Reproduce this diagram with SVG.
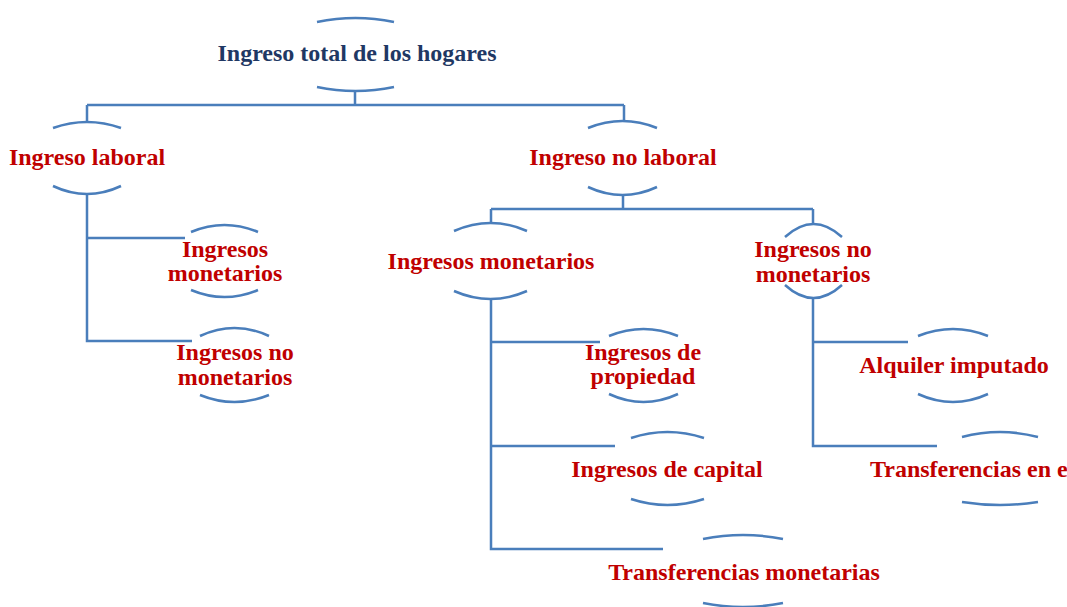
<svg xmlns="http://www.w3.org/2000/svg" width="1067" height="607" viewBox="0 0 1067 607">
<style>
.arc{fill:none;stroke:#4A7EBB;stroke-width:2.5}
.con{fill:none;stroke:#4A7EBB;stroke-width:2.5}
text{font-family:"Liberation Serif","Times New Roman",serif;font-weight:bold;font-size:24px;text-anchor:middle}
.root{fill:#1F3864}
.lbl{fill:#C00000}
</style>
<rect width="1067" height="607" fill="#ffffff"/>
<g id="connectors">
<path class="con" d="M355,91 V105 M87,105 H624 M87,105 V122 M624,105 V121"/>
<path class="con" d="M87,194 V341 H192 M87,238 H185"/>
<path class="con" d="M623,195 V209 M491,209 H813 M491,209 V223 M813,209 V224"/>
<path class="con" d="M491,299 V549 H663 M491,342 H600 M491,446 H615"/>
<path class="con" d="M813,298 V446 H937 M813,342 H908"/>
</g>
<g id="node-total">
<path class="arc" d="M317,22 Q355.5,14 394,22 M317,87 Q355.5,95 394,87"/>
<text class="root" x="357" y="61">Ingreso total de los hogares</text>
</g>
<g id="node-laboral">
<path class="arc" d="M53,128 Q87,116 121,128 M53,186 Q87,202 121,186"/>
<text class="lbl" x="87" y="165">Ingreso laboral</text>
</g>
<g id="node-no-laboral">
<path class="arc" d="M588,128 Q622.5,114 657,128 M588,187 Q622.5,203 657,187"/>
<text class="lbl" x="623" y="165">Ingreso no laboral</text>
</g>
<g id="node-lab-monetarios">
<path class="arc" d="M191,232 Q224.5,218 258,232 M191,290 Q224.5,304 258,290"/>
<text class="lbl" x="225" y="257">Ingresos</text>
<text class="lbl" x="225" y="281">monetarios</text>
</g>
<g id="node-lab-no-monetarios">
<path class="arc" d="M200,336 Q234.5,320 269,336 M200,395 Q234.5,409 269,395"/>
<text class="lbl" x="235" y="360">Ingresos no</text>
<text class="lbl" x="235" y="385">monetarios</text>
</g>
<g id="node-nl-monetarios">
<path class="arc" d="M454,231 Q490.5,215 527,231 M454,291 Q490.5,307 527,291"/>
<text class="lbl" x="491" y="269">Ingresos monetarios</text>
</g>
<g id="node-nl-no-monetarios">
<path class="arc" d="M785,237 Q813.5,211 842,237 M785,285 Q813.5,311 842,285"/>
<text class="lbl" x="813" y="257">Ingresos no</text>
<text class="lbl" x="813" y="282">monetarios</text>
</g>
<g id="node-propiedad">
<path class="arc" d="M609,336 Q643.5,322 678,336 M609,394 Q643.5,410 678,394"/>
<text class="lbl" x="643" y="360">Ingresos de</text>
<text class="lbl" x="643" y="384">propiedad</text>
</g>
<g id="node-capital">
<path class="arc" d="M631,438 Q667.5,426 704,438 M631,499 Q667.5,511 704,499"/>
<text class="lbl" x="667" y="477">Ingresos de capital</text>
</g>
<g id="node-transferencias-monetarias">
<path class="arc" d="M703,539 Q743,531 783,539 M703,603 Q743,611 783,603"/>
<text class="lbl" x="744" y="580">Transferencias monetarias</text>
</g>
<g id="node-alquiler">
<path class="arc" d="M918,336 Q953,322 988,336 M918,394 Q953,410 988,394"/>
<text class="lbl" x="954" y="373">Alquiler imputado</text>
</g>
<g id="node-transferencias-especie">
<path class="arc" d="M962,437 Q1000,427 1038,437 M962,502 Q1000,508 1038,502"/>
<text class="lbl" x="870" y="477" style="text-anchor:start">Transferencias en especie</text>
</g>
</svg>
